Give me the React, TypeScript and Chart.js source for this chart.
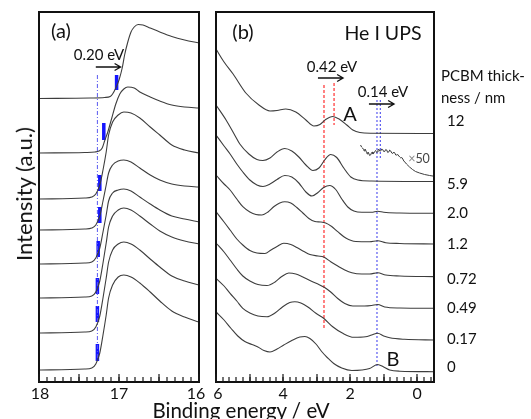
import React, { useEffect, useRef } from "react";
import { Chart, registerables } from "chart.js";

Chart.register(...registerables);

const FONT = "Lato, 'Open Sans', 'DejaVu Sans', sans-serif";

// ---------------- Panel (a): secondary-electron cutoff ----------------
const thicknessLabels = ["12", "5.9", "2.0", "1.2", "0.72", "0.49", "0.17", "0"];

const cutoffE_12 = [18.0, 17.36, 17.18, 17.11, 17.08, 17.04, 17.0, 16.96, 16.93, 16.89, 16.85, 16.81, 16.76, 16.7, 16.61, 16.49, 16.34, 16.18, 16.0];
const cutoffI_12 = [283.5, 284, 284.5, 285.5, 288, 294, 302, 314, 327, 340, 350, 355, 357.5, 357, 354, 350, 345.5, 342, 339];

const cutoffE_5_9 = [18.0, 17.43, 17.3, 17.25, 17.21, 17.18, 17.14, 17.09, 17.04, 16.99, 16.94, 16.89, 16.81, 16.74, 16.61, 16.49, 16.34, 16.18, 16.0];
const cutoffI_5_9 = [229, 229.5, 230, 231, 234, 241, 250, 264, 278, 288, 293, 295, 294, 290, 285, 281, 277, 275, 274];

const cutoffE_thin = [18.0, 17.43, 17.34, 17.29, 17.24, 17.2, 17.16, 17.13, 17.08, 17.01, 16.94, 16.85, 16.74, 16.61, 16.49, 16.34, 16.18, 16.0];
const cutoffI_2_0 = [183, 184, 185, 188, 197, 212, 230, 247, 260, 267, 270, 269, 264, 255, 247, 237, 232, 229];
const cutoffI_1_2 = [152, 153, 154, 157, 166, 181, 197, 209, 217, 221, 222, 220, 214, 207, 202, 198, 196, 195];
const cutoffI_0_72 = [118, 119, 120, 124, 134, 150, 167, 181, 189, 192, 193, 191, 185, 178, 172, 166, 163, 160];
const cutoffI_0_49 = [84, 85, 86, 90, 101, 119, 139, 155, 166, 172, 174, 172, 166, 158, 151, 145, 141, 138];
const cutoffI_0_17 = [49, 50, 51, 55, 66, 84, 104, 120, 132, 138, 140, 138, 132, 123, 115, 106, 101, 97];
const cutoffI_0 = [12, 13, 14, 18, 29, 47, 67, 84, 97, 105, 107, 105, 99, 90, 81, 71, 65, 60];

// onset markers (blue bars) and reference line
const onsetE = [17.03, 17.19, 17.24, 17.24, 17.26, 17.27, 17.27, 17.27];
const onsetTop = [307, 259, 207, 175, 141, 104, 76, 38];
const onsetBottom = [292, 242, 191, 159, 125, 88, 60, 21];
const cutoffRefE = 17.27;
const cutoffRefSpan = [307, 20];
const cutoffArrow = { from: 17.29, to: 16.98, y: 315 };

const aTickLabels = [18, 17, 16];
const aMinorTicks = [16, 16.1, 16.2, 16.3, 16.4, 16.5, 16.6, 16.7, 16.8, 16.9, 17, 17.1, 17.2, 17.3, 17.4, 17.5, 17.6, 17.7, 17.8, 17.9, 18];
const aMajorTicks = [16, 16.5, 17, 17.5, 18];

// ---------------- Panel (b): He I UPS valence region ----------------
const upsE_12 = [6.0, 5.76, 5.49, 5.11, 4.72, 4.39, 4.18, 3.92, 3.62, 3.32, 3.08, 2.9, 2.73, 2.52, 2.31, 2.1, 1.92, 1.71, 1.36, -0.55];
const upsI_12 = [333, 320, 308, 289, 277, 271, 271.5, 273, 270, 262, 256, 257.5, 262.5, 265.5, 262.5, 257, 252, 249.5, 248.8, 248.5];

const upsE_5_9 = [6.0, 5.7, 5.46, 5.29, 5.02, 4.78, 4.6, 4.39, 4.18, 3.95, 3.74, 3.53, 3.32, 3.11, 2.93, 2.76, 2.58, 2.4, 2.19, 1.98, 1.77, 1.36, -0.55];
const upsI_5_9 = [277, 262, 248, 238, 228, 222.5, 221.5, 224, 230, 233.5, 231, 225, 217, 211.5, 214, 222, 227.5, 224.5, 214, 205, 202, 201, 200.5];

const insetE_x50 = [1.69, 1.66, 1.63, 1.6, 1.58, 1.56, 1.54, 1.51, 1.49, 1.47, 1.45, 1.42, 1.39, 1.36, 1.34, 1.32, 1.3, 1.27, 1.24, 1.21, 1.19, 1.17, 1.15, 1.12, 1.09, 1.06, 1.03, 1.0, 0.97, 0.94, 0.91, 0.88, 0.85, 0.82, 0.79, 0.76, 0.73, 0.7, 0.67, 0.64, 0.61, 0.58, 0.55, 0.52, 0.49, 0.46, 0.43, 0.4, 0.37, 0.32, 0.23, 0.14, 0.05, -0.07, -0.22, -0.37, -0.55];
const insetI_x50 = [237, 235, 234, 232.5, 231, 233, 232, 229.5, 228, 230, 229, 226.5, 227, 229.5, 230, 228, 228.5, 230.5, 231.5, 229.5, 230, 232, 233, 231, 231, 233, 232.5, 230.5, 230.5, 232.5, 232, 229.5, 230, 232, 231, 229, 228.5, 230, 229, 227, 227, 227.5, 226, 225, 224, 224.5, 223, 221, 220, 218, 215, 212.5, 210.5, 209, 207.5, 206.5, 205.5];

const upsE_2_0 = [6.0, 5.76, 5.58, 5.38, 5.2, 4.99, 4.78, 4.6, 4.39, 4.18, 3.95, 3.74, 3.53, 3.32, 3.14, 2.96, 2.79, 2.61, 2.43, 2.25, 2.07, 1.89, 1.65, 1.36, 1.18, 1.0, 0.52, -0.55];
const upsI_2_0 = [247, 236, 228, 218, 210, 202, 197, 195.5, 198, 202.5, 206.5, 205, 199, 190, 186, 189.5, 194.5, 196.5, 192.5, 183, 175, 171, 169.7, 169.7, 170.8, 169.7, 169, 168.7];

const upsE_1_2 = [6.0, 5.76, 5.58, 5.38, 5.2, 4.99, 4.81, 4.63, 4.45, 4.27, 4.1, 3.95, 3.77, 3.59, 3.41, 3.23, 3.05, 2.88, 2.73, 2.55, 2.37, 2.13, 1.83, 1.42, 1.18, 0.94, 0.52, -0.55];
const upsI_1_2 = [207, 198, 192, 183, 175.3, 170, 167.5, 167, 170, 175.5, 179, 180.3, 179, 174.5, 169, 163.5, 160.5, 160, 159, 155.5, 150.3, 144, 140.5, 140.3, 141.3, 139.3, 138.5, 138];

const upsE_0_72 = [6.0, 5.76, 5.58, 5.38, 5.2, 4.99, 4.78, 4.54, 4.36, 4.18, 3.98, 3.77, 3.59, 3.38, 3.2, 2.96, 2.79, 2.58, 2.37, 2.16, 1.95, 1.65, 1.42, 1.18, 0.94, 0.52, -0.55];
const upsI_0_72 = [170.3, 160, 152, 143, 137, 131.5, 129, 128.5, 132, 135.5, 138.7, 137.5, 134.5, 130.5, 127.5, 126, 125, 120.3, 116, 112, 109.2, 108, 108, 109.3, 107, 106, 105.3];

const upsE_0_49 = [6.0, 5.76, 5.58, 5.38, 5.2, 4.99, 4.75, 4.48, 4.24, 4.04, 3.83, 3.62, 3.41, 3.2, 2.96, 2.76, 2.58, 2.37, 2.16, 1.92, 1.57, 1.36, 1.18, 0.97, 0.52, -0.55];
const upsI_0_49 = [139, 130, 122, 113, 106, 101, 97.5, 96.5, 100, 105.5, 109, 108, 105, 101.5, 98, 94.5, 90, 83.5, 78.5, 76, 76, 76.5, 77.5, 75, 74, 73.7];

const upsE_0_17 = [6.0, 5.76, 5.58, 5.38, 5.2, 4.99, 4.75, 4.48, 4.24, 4.01, 3.8, 3.65, 3.47, 3.26, 3.02, 2.79, 2.52, 2.22, 1.89, 1.54, 1.36, 1.18, 1.0, 0.82, 0.38, -0.55];
const upsI_0_17 = [103.7, 96, 88.7, 81, 73.7, 69, 66, 65.2, 69, 75.3, 79.5, 80.3, 79, 75, 68.7, 63.7, 55.3, 48.7, 44.7, 45.2, 47, 48.7, 46, 44.2, 42.7, 42];

const upsE_0 = [6.0, 5.76, 5.55, 5.35, 5.14, 4.93, 4.75, 4.57, 4.39, 4.18, 3.98, 3.74, 3.5, 3.35, 3.2, 3.02, 2.85, 2.67, 2.49, 2.25, 1.95, 1.65, 1.42, 1.18, 1.0, 0.82, 0.52, -0.55];
const upsI_0 = [70, 62, 53.5, 46, 40.5, 37.5, 35, 31.5, 30, 33, 37, 41.5, 45, 45.5, 43.5, 38, 30.5, 24, 18.5, 14, 11.5, 12, 13.5, 17.5, 15, 12, 10.8, 10.3];

// guide lines in (b)
const peakA_E = [2.78, 2.48];
const peakA_span = [[297, 54], [299, 257]];
const peakB_E = [1.2, 1.1];
const peakB_span = [[282, 15], [282, 224]];
const shiftArrowsB = [
  { from: 2.96, to: 2.21, y: 304 },
  { from: 1.44, to: 0.69, y: 278 },
];
const bTickLabels = [6, 4, 2, 0];
const bMinorTicks = [-0.4, -0.2, 0, 0.2, 0.4, 0.6, 0.8, 1, 1.2, 1.4, 1.6, 1.8, 2, 2.2, 2.4, 2.6, 2.8, 3, 3.2, 3.4, 3.6, 3.8, 4, 4.2, 4.4, 4.6, 4.8, 5, 5.2, 5.4, 5.6, 5.8, 6];
const bMajorTicks = [0, 1, 2, 3, 4, 5, 6];

// ---------------- helpers ----------------
const CURVE = "#3d3d3d";

function pts(xs: number[], ys: number[]) {
  return xs.map((x, i) => ({ x, y: ys[i] }));
}

function curve(xs: number[], ys: number[], extra: any = {}) {
  return {
    data: pts(xs, ys),
    borderColor: CURVE,
    borderWidth: 1.1,
    pointRadius: 0,
    fill: false,
    cubicInterpolationMode: "monotone",
    ...extra,
  };
}

function vline(x: number, span: number[], color: string, width: number, dash: number[]) {
  return {
    data: [{ x, y: span[0] }, { x, y: span[1] }],
    borderColor: color,
    borderWidth: width,
    borderDash: dash,
    borderCapStyle: "butt",
    pointRadius: 0,
    fill: false,
    tension: 0,
  };
}

function panelPlugin(cfg: {
  minor: number[]; major: number[];
  labels: number[]; labelShift: number[]; arrows: { from: number; to: number; y: number }[];
}) {
  return {
    id: "panelAxis",
    afterDraw(chart: any) {
      const ctx: CanvasRenderingContext2D = chart.ctx;
      const a = chart.chartArea;
      const xs = chart.scales.x;
      const ys = chart.scales.y;
      ctx.save();
      ctx.setLineDash([]);
      ctx.globalAlpha = 1;
      ctx.lineWidth = 2;
      ctx.strokeStyle = "#111";
      ctx.strokeRect(a.left, a.top, a.right - a.left, a.bottom - a.top);

      ctx.fillStyle = "#1a1a1a";
      const bottom = Math.round(a.bottom);
      cfg.minor.forEach((v) => {
        const px = Math.round(xs.getPixelForValue(v));
        ctx.fillRect(px - 0.6, bottom - 5, 1.2, 5);
      });
      cfg.major.forEach((v) => {
        const px = Math.round(xs.getPixelForValue(v));
        ctx.fillRect(px - 0.6, bottom - 8, 1.2, 8);
      });

      ctx.fillStyle = "#111";
      ctx.font = `16px ${FONT}`;
      ctx.textAlign = "center";
      ctx.textBaseline = "middle";
      cfg.labels.forEach((v, i) => {
        ctx.fillText(String(v), xs.getPixelForValue(v) + (cfg.labelShift[i] || 0), a.bottom + 12);
      });

      ctx.strokeStyle = "#111";
      ctx.lineWidth = 1.3;
      cfg.arrows.forEach((ar) => {
        const x1 = xs.getPixelForValue(ar.from);
        const x2 = xs.getPixelForValue(ar.to);
        const y = ys.getPixelForValue(ar.y);
        ctx.beginPath();
        ctx.moveTo(x1, y);
        ctx.lineTo(x2, y);
        ctx.moveTo(x2 - 6, y - 3.5);
        ctx.lineTo(x2, y);
        ctx.lineTo(x2 - 6, y + 3.5);
        ctx.stroke();
      });
      ctx.restore();
    },
  };
}

function baseOptions(xmin: number, xmax: number, padding: any) {
  return {
    responsive: false,
    animation: false,
    events: [],
    layout: { padding },
    plugins: { legend: { display: false }, tooltip: { enabled: false }, title: { display: false } },
    scales: {
      x: { type: "linear", reverse: true, min: xmin, max: xmax, display: false },
      y: { type: "linear", min: 0, max: 370, display: false },
    },
  };
}

function Txt(props: { x: number; y: number; size: number; left?: boolean; rotate?: boolean; style?: any; children: any }) {
  const { x, y, size, left, rotate, style, children } = props;
  let transform = left ? "translateY(-50%)" : "translate(-50%,-50%)";
  if (rotate) transform = "translate(-50%,-50%) rotate(-90deg)";
  return (
    <div
      style={{
        position: "absolute",
        left: x,
        top: y,
        transform,
        fontSize: size,
        lineHeight: 1,
        whiteSpace: "nowrap",
        ...style,
      }}
    >
      {children}
    </div>
  );
}

export default function App() {
  const refA = useRef<HTMLCanvasElement>(null);
  const refB = useRef<HTMLCanvasElement>(null);

  useEffect(() => {
    const dsA: any[] = [
      curve(cutoffE_12, cutoffI_12),
      curve(cutoffE_5_9, cutoffI_5_9),
      curve(cutoffE_thin, cutoffI_2_0),
      curve(cutoffE_thin, cutoffI_1_2),
      curve(cutoffE_thin, cutoffI_0_72),
      curve(cutoffE_thin, cutoffI_0_49),
      curve(cutoffE_thin, cutoffI_0_17),
      curve(cutoffE_thin, cutoffI_0),
      vline(cutoffRefE, cutoffRefSpan, "#5a5af0", 1, [4, 2, 1, 2]),
    ];
    onsetE.forEach((e, i) => dsA.push(vline(e, [onsetTop[i], onsetBottom[i]], "#1414ff", 3.5, [])));

    const dsB: any[] = [
      curve(upsE_12, upsI_12),
      curve(upsE_5_9, upsI_5_9),
      curve(insetE_x50, insetI_x50, { cubicInterpolationMode: "default", tension: 0, borderWidth: 1 }),
      curve(upsE_2_0, upsI_2_0),
      curve(upsE_1_2, upsI_1_2),
      curve(upsE_0_72, upsI_0_72),
      curve(upsE_0_49, upsI_0_49),
      curve(upsE_0_17, upsI_0_17),
      curve(upsE_0, upsI_0),
    ];
    peakA_E.forEach((e, i) => dsB.push(vline(e, peakA_span[i], "#ff3030", 1.2, [3, 2])));
    peakB_E.forEach((e, i) => dsB.push(vline(e, peakB_span[i], "#5a5af0", 1.2, [2, 2])));

    const ca = new Chart(refA.current as HTMLCanvasElement, {
      type: "line",
      data: { datasets: dsA },
      options: baseOptions(16, 18, { left: 39, right: 11, top: 12, bottom: 37 }) as any,
      plugins: [panelPlugin({ minor: aMinorTicks, major: aMajorTicks, labels: aTickLabels, labelShift: [1, 0, -3], arrows: [cutoffArrow] })],
    } as any);

    const cb = new Chart(refB.current as HTMLCanvasElement, {
      type: "line",
      data: { datasets: dsB },
      options: baseOptions(-0.5, 6, { left: 11, right: 11, top: 12, bottom: 37 }) as any,
      plugins: [panelPlugin({ minor: bMinorTicks, major: bMajorTicks, labels: bTickLabels, labelShift: [2, 0, 0, 0], arrows: shiftArrowsB })],
    } as any);

    return () => {
      ca.destroy();
      cb.destroy();
    };
  }, []);

  const rightY = [120, 183, 212, 243, 278, 307, 338, 366];

  return (
    <div
      style={{
        position: "absolute",
        left: 0,
        top: 0,
        width: 531,
        height: 419,
        background: "#fff",
        overflow: "hidden",
        fontFamily: FONT,
        color: "#111",
      }}
    >
      <canvas ref={refA} width={210} height={419} style={{ position: "absolute", left: 0, top: 0, display: "block" }} />
      <canvas ref={refB} width={240} height={419} style={{ position: "absolute", left: 205, top: 0, display: "block" }} />

      <Txt x={61} y={30} size={20}>(a)</Txt>
      <Txt x={99} y={54} size={15}>0.20 eV</Txt>
      <Txt x={243} y={31} size={20}>(b)</Txt>
      <Txt x={383} y={33} size={19.5}>He I UPS</Txt>
      <Txt x={332} y={66} size={15}>0.42 eV</Txt>
      <Txt x={383} y={91} size={15}>0.14 eV</Txt>
      <Txt x={350} y={113} size={20}>A</Txt>
      <Txt x={393} y={358} size={20}>B</Txt>
      <Txt x={419} y={159} size={12.5} style={{ color: "#444" }}>
        <span style={{ color: "#888" }}>×</span>50
      </Txt>

      <Txt x={24} y={194} size={22} rotate>Intensity (a.u.)</Txt>
      <Txt x={241} y={410} size={20.5}>Binding energy / eV</Txt>

      <Txt x={441} y={75} size={15} left>PCBM thick-</Txt>
      <Txt x={441} y={97} size={15} left>ness / nm</Txt>
      {thicknessLabels.map((t, i) => (
        <Txt key={t} x={447} y={rightY[i]} size={15} left>{t}</Txt>
      ))}
    </div>
  );
}
